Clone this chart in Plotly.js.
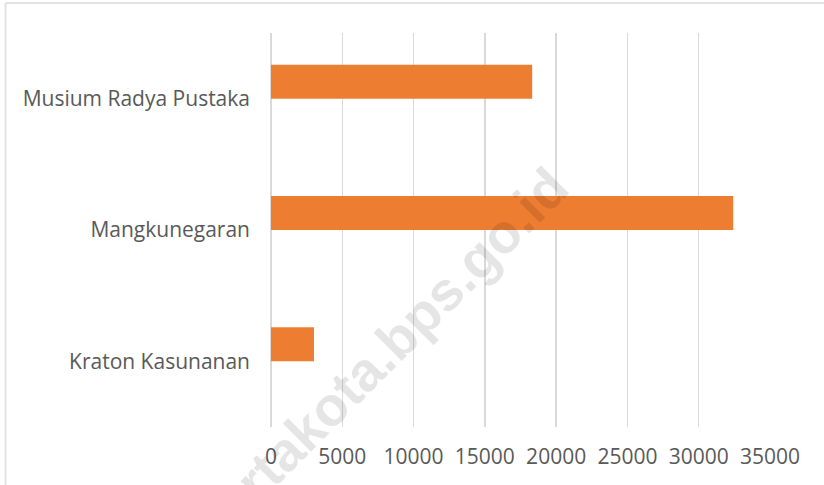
<!DOCTYPE html>
<html>
<head>
<meta charset="utf-8">
<script src="https://cdn.plot.ly/plotly-3.0.1.min.js"></script>
<style>html,body{margin:0;padding:0;background:#fff;}#chart{width:824px;height:485px;}</style>
</head>
<body>
<div id="chart"></div>
<script>
// Data (bottom to top on the category axis)
const categories = ['Kraton Kasunanan', 'Mangkunegaran', 'Musium Radya Pustaka'];
const visitors = [3015, 32420, 18320];
const xTickValues = [0, 5000, 10000, 15000, 20000, 25000, 30000, 35000];
const xTickLabels = ['0', '5000', '10000', '15000', '20000', '25000', '30000', '35000'];
const watermarkText = 'surakartakota.bps.go.id';

const font = {family: '"Open Sans", "Noto Sans", sans-serif', size: 21, color: '#595959'};

const trace = {
  type: 'bar',
  orientation: 'h',
  y: categories,
  x: visitors,
  offset: 0,
  width: 0.259,
  marker: {color: '#ED7D31', line: {width: 0}},
  hoverinfo: 'x+y'
};

const layout = {
  width: 824, height: 485,
  margin: {l: 271, r: 54, t: 33, b: 58},
  paper_bgcolor: '#ffffff', plot_bgcolor: '#ffffff',
  showlegend: false,
  font: font,
  xaxis: {
    range: [0, 35000],
    tickvals: xTickValues, ticktext: xTickLabels,
    showgrid: true, gridcolor: '#D9D9D9', gridwidth: 1.3,
    zeroline: true, zerolinecolor: '#D9D9D9', zerolinewidth: 1.3,
    showline: false, ticks: '',
    ticklabelstandoff: 15,
    tickfont: font, fixedrange: true
  },
  yaxis: {
    type: 'category',
    range: [-0.5, 2.5],
    showgrid: false, zeroline: false, showline: false, ticks: '',
    ticklabelstandoff: 20,
    tickfont: font, fixedrange: true
  },
  shapes: [
    {type: 'line', xref: 'paper', yref: 'paper', x0: -0.532, x1: 1.2, y0: 1.0761, y1: 1.0761,
     line: {color: '#E2E2E2', width: 2}},
    {type: 'line', xref: 'paper', yref: 'paper', x0: -0.532, x1: -0.532, y0: 1.0761, y1: -0.2,
     line: {color: '#E2E2E2', width: 2}}
  ],
  annotations: [{
    text: watermarkText, xref: 'paper', yref: 'paper', x: 0.136, y: 0.076,
    xanchor: 'center', yanchor: 'middle', showarrow: false, textangle: -45,
    font: {family: '"Liberation Sans", Arial, sans-serif', size: 55, color: 'rgba(0,0,0,0.10)', weight: 'bold'}
  }]
};

Plotly.newPlot('chart', [trace], layout, {displayModeBar: false, staticPlot: true});
</script>
</body>
</html>
